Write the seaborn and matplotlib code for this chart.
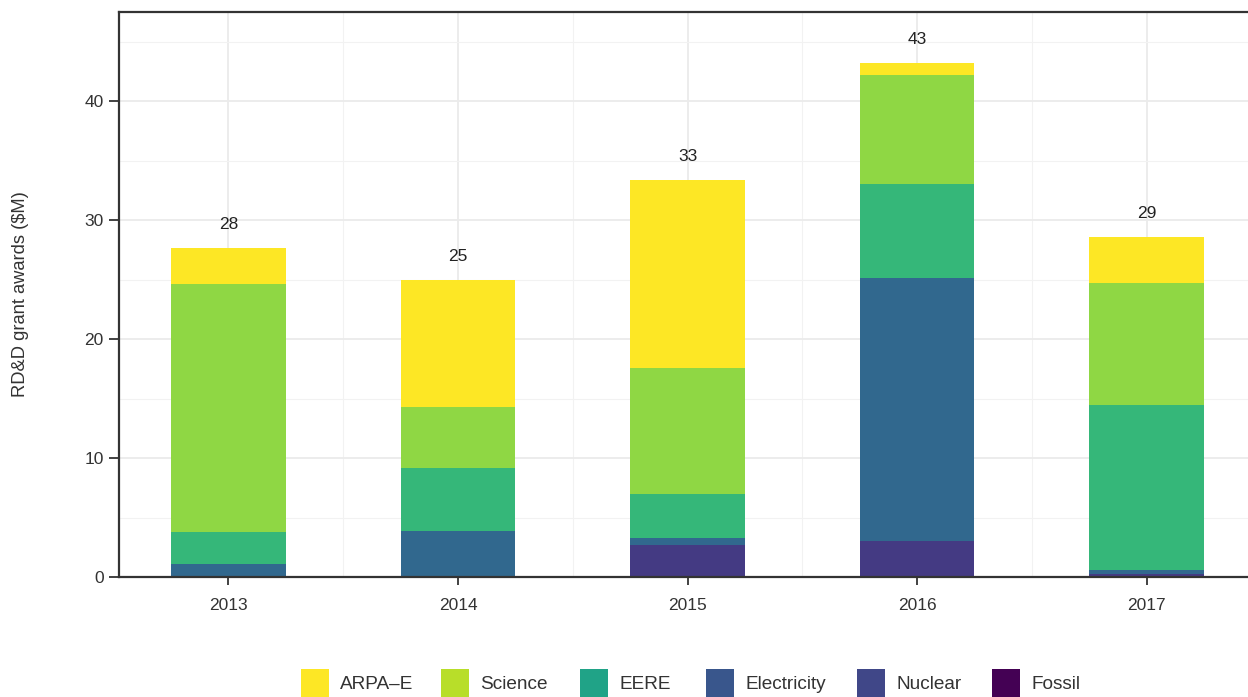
import numpy as np
import pandas as pd
import matplotlib
matplotlib.use("Agg")
import matplotlib.pyplot as plt
from matplotlib.patches import Patch
from matplotlib.ticker import MultipleLocator
import seaborn as sns

# RD&D grant awards by DOE office ($M)
years = ["2013", "2014", "2015", "2016", "2017"]
fossil = [0.0, 0.0, 0.0, 0.0, 0.0]
nuclear = [0.0, 0.0, 2.69, 3.03, 0.25]
electricity = [1.10, 3.87, 0.59, 22.10, 0.30]
eere = [2.68, 5.29, 3.69, 7.90, 13.90]
science = [20.82, 5.14, 10.59, 9.15, 10.25]
arpa_e = [3.05, 10.66, 15.80, 1.01, 3.87]

offices = ["Fossil", "Nuclear", "Electricity", "EERE", "Science", "ARPA\u2013E"]
series = [fossil, nuclear, electricity, eere, science, arpa_e]
bar_colors = ["#440154", "#443A83", "#31688E", "#35B779", "#8FD744", "#FDE725"]
key_colors = ["#440154", "#404788", "#39568C", "#20A387", "#B8DE29", "#FDE725"]

sns.set_theme(style="white")
plt.rcParams["font.family"] = ["Liberation Sans", "DejaVu Sans"]

W, H = 1248, 697
fig = plt.figure(figsize=(W / 100, H / 100), dpi=100)
ax = fig.add_axes([119 / W, 120 / H, 1 - 119 / W, 565 / H])

cum = np.zeros(len(years))
cums = []
for vals in series:
    cum = cum + np.array(vals)
    cums.append(cum.copy())

# draw cumulative totals from the top layer down so lower layers sit in front
for name, top, color in reversed(list(zip(offices, cums, bar_colors))):
    d = pd.DataFrame({"year": years, "value": top})
    sns.barplot(data=d, x="year", y="value", color=color, width=0.5,
                saturation=1, linewidth=0, edgecolor="none", ax=ax, zorder=2)

totals = cums[-1]
for i, t in enumerate(totals):
    ax.text(i, t + 2.0, f"{int(round(t))}", ha="center", va="center",
            fontsize=12.5, color="#222222")

ax.set_xlim(-0.477, 4.442)
ax.set_ylim(0, 47.5)
ax.yaxis.set_major_locator(MultipleLocator(10))
ax.yaxis.set_minor_locator(MultipleLocator(5))
ax.set_xticks(range(len(years)))
ax.set_xticks([0.5, 1.5, 2.5, 3.5], minor=True)
ax.grid(which="major", color="#ebebeb", linewidth=1.3, zorder=0)
ax.grid(which="minor", color="#f2f2f2", linewidth=0.8, zorder=0)
ax.set_axisbelow(True)

for side in ["left", "bottom", "top"]:
    ax.spines[side].set_visible(True)
    ax.spines[side].set_color("#333333")
    ax.spines[side].set_linewidth(1.6)
ax.spines["right"].set_visible(False)

ax.tick_params(axis="x", which="major", length=6, width=1.3,
               color="#333333", labelsize=12.5, labelcolor="#333333",
               bottom=True, pad=9)
ax.tick_params(axis="y", which="major", length=7.5, width=1.3,
               color="#333333", labelsize=12.5, labelcolor="#333333",
               left=True, pad=3.5)
ax.tick_params(axis="both", which="minor", length=0)
ax.set_xlabel("")
ax.set_ylabel("RD&D grant awards ($M)", fontsize=13.2, color="#333333",
              labelpad=40)

# horizontal legend along the bottom, one entry per office
legend_x = [301, 441, 580, 706, 857, 992]
legend_y = 683
for lx, lab, col in zip(legend_x, reversed(offices), reversed(key_colors)):
    leg = fig.legend([Patch(facecolor=col, edgecolor="none")], [lab],
                     loc="center left", frameon=False,
                     bbox_to_anchor=(lx / W, 1 - legend_y / H),
                     borderpad=0, borderaxespad=0,
                     prop={"family": "Liberation Sans", "size": 13.7},
                     handlelength=1.47, handleheight=1.89,
                     handletextpad=0.6, labelcolor="#333333")

fig.savefig("out.png", dpi=100)
